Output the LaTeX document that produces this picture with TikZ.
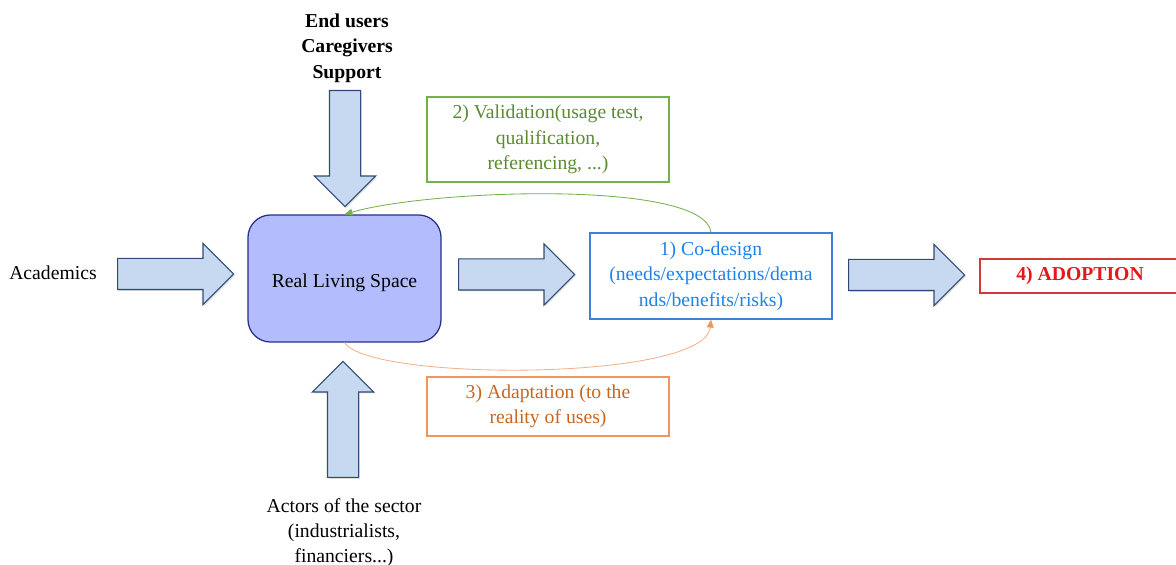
\documentclass[tikz,border=0pt]{standalone}
\usepackage{fontspec}
\setmainfont{Liberation Serif}
\usetikzlibrary{arrows.meta, positioning, shapes.arrows, shadows}
\definecolor{cnavy}{HTML}{2F4B73}
\definecolor{cpale}{HTML}{C6D9F1}
\definecolor{cviolet}{HTML}{B3BCFD}
\definecolor{cviodark}{HTML}{27318A}
\definecolor{cgreen}{HTML}{76B04A}
\definecolor{cgreentxt}{HTML}{5A8A32}
\definecolor{cblue}{HTML}{3F7FD8}
\definecolor{cbluetxt}{HTML}{1E82EA}
\definecolor{corange}{HTML}{F2955A}
\definecolor{corangetxt}{HTML}{C9661E}
\definecolor{corangeln}{HTML}{F5B088}
\definecolor{cred}{HTML}{D23A3A}
\definecolor{credtxt}{HTML}{E5171B}
\tikzset{
  every picture/.style={font=\fontsize{14}{18}\selectfont, x=0.025cm, y=0.025cm},
  bigarrow/.style={single arrow, draw=cnavy, fill=cpale, line width=0.8pt, anchor=tail,
    inner xsep=0pt, inner ysep=0.375cm, minimum height=2.9cm, single arrow head extend=0.375cm,
    drop shadow={opacity=0.25, shadow xshift=1pt, shadow yshift=-1pt}},
  stepbox/.style={draw=#1, line width=0.8pt, align=center, minimum width=6.05cm, inner sep=2pt},
  dropline/.style={execute at begin node={\rule{0pt}{#1}}},
  loop/.style={line width=0.6pt, -{Triangle[length=2mm, width=1.7mm]}},
}

\begin{document}
\begin{tikzpicture}
  \useasboundingbox (0,0) rectangle (1176,565);
  % centre and the actors around it
  \node[draw=cviodark, fill=cviolet, rounded corners=16pt, line width=0.9pt, dropline=15.5pt,
        minimum width=4.825cm, minimum height=3.175cm] (rls) at (344.5,286.5) {Real Living Space};
  \node[font=\fontsize{14}{18}\selectfont\bfseries, align=center] (users) at (347,517) {End users\\Caregivers\\Support};
  \node (acad) at (53,292) {Academics};
  \node[align=center] (actors) at (344,32.5) {Actors of the sector\\(industrialists,\\financiers...)};
  \node[bigarrow, rotate=-90] (adown) at (345,475) {};
  \node[bigarrow] (aleft) at (117,291) {};
  \node[bigarrow, rotate=90] (aup) at (343,87) {};
  % the steps
  \node[bigarrow] (amid) at (458,290.5) {};
  \node[stepbox=cblue, text=cbluetxt, minimum height=2.15cm, dropline=14pt] (cd) at (711,289)
    {1) Co-design\\(needs/expectations/dema\\nds/benefits/risks)};
  \node[bigarrow] (aright) at (848,290) {};
  \node[stepbox=cred, text=credtxt, font=\fontsize{14}{18}\selectfont\bfseries,
        minimum width=5cm, minimum height=0.85cm] (adopt) at (1080,289) {4) ADOPTION};
  \node[stepbox=cgreen, text=cgreentxt, minimum height=2.125cm, dropline=17pt] (valid) at (548,425.5)
    {2) Validation(usage test,\\qualification,\\referencing, ...)};
  \node[stepbox=corange, text=corangetxt, minimum height=1.475cm, dropline=17pt] (adapt) at (548,158.5)
    {3) Adaptation (to the\\reality of uses)};
  \draw[loop, draw=cgreen] (cd.north) .. controls +(-6,53) and +(85.5,25) .. (rls.north);
  \draw[line width=0.6pt, draw=corangeln, -{Triangle[length=2mm, width=1.7mm, color=corange]}]
    (rls.south) .. controls +(25.5,-39) and +(-6,-62) .. (cd.south);
\end{tikzpicture}
\end{document}
